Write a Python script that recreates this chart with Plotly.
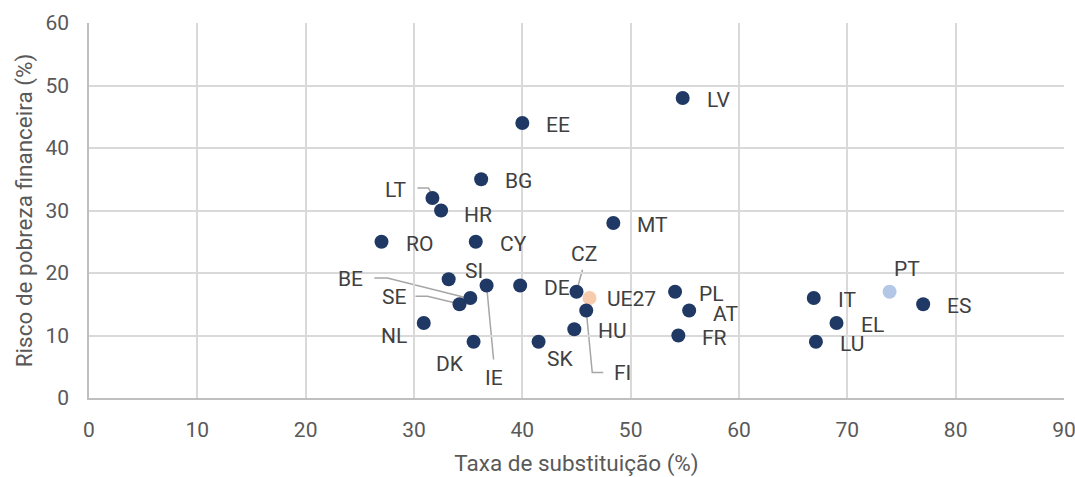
import plotly.graph_objects as go

countries = ["LV", "EE", "BG", "LT", "HR", "RO", "CY", "MT", "SI", "BE", "SE", "IE", "DE",
             "CZ", "UE27", "FI", "HU", "NL", "DK", "SK", "PL", "AT", "FR", "IT", "EL", "LU",
             "PT", "ES"]
taxa_substituicao = [54.8, 40.0, 36.2, 31.7, 32.5, 27.0, 35.7, 48.4, 33.2, 35.2, 34.2, 36.7, 39.8,
                     45.0, 46.2, 45.9, 44.8, 30.9, 35.5, 41.5, 54.1, 55.4, 54.4, 66.9, 69.0, 67.1,
                     73.9, 77.0]
risco_pobreza = [48, 44, 35, 32, 30, 25, 25, 28, 19, 16, 15, 18, 18,
                 17, 16, 14, 11, 12, 9, 9, 17, 14, 10, 16, 12, 9,
                 17, 15]

x_ticks = [0, 10, 20, 30, 40, 50, 60, 70, 80, 90]
y_ticks = [0, 10, 20, 30, 40, 50, 60]

NAVY = "#1F3864"
PEACH = "#F8CBAD"
LIGHTBLUE = "#B4C7E7"
colors = [PEACH if c == "UE27" else LIGHTBLUE if c == "PT" else NAVY for c in countries]

# label placement: (xanchor, xshift, yshift) in pixels; yshift positive = up
label_pos = {
    "LT": ("right", -24, 8), "HR": ("left", 21, -4), "SI": ("left", 14, 8),
    "BE": ("right", -105, 19), "SE": ("right", -52, 7), "IE": ("center", 7, -92),
    "CZ": ("center", 7, 38), "FI": ("left", 26, -62), "NL": ("right", -15, -13),
    "DK": ("center", -24, -22), "SK": ("center", 21, -17), "PT": ("center", 17, 23),
    "UE27": ("left", 15, -1), "AT": ("left", 22, -3),
}
# leader lines in pixel offsets (screen: y down)
leaders = {
    "LT": [(-15, -10), (-4, -10), (-1, -5)],
    "BE": [(-96, -20), (-83, -20), (-3, 0)],
    "SE": [(-44, -8), (-32, -8), (-3, -1)],
    "IE": [(0, 0), (7, 74)],
    "CZ": [(1, -4), (6, -22)],
    "FI": [(0, 0), (6, 62), (17, 62)],
}

fig = go.Figure()
fig.add_trace(go.Scatter(
    x=taxa_substituicao, y=risco_pobreza, mode="markers",
    marker=dict(size=14, color=colors, line=dict(width=0)),
    text=countries, hoverinfo="text+x+y", showlegend=False,
))

annotations = []
for c, xv, yv in zip(countries, taxa_substituicao, risco_pobreza):
    xa, xs, ys = label_pos.get(c, ("left", 22, -2))
    annotations.append(dict(
        x=xv, y=yv, xref="x", yref="y", text=c, showarrow=False,
        xanchor=xa, yanchor="middle", xshift=xs, yshift=ys,
        font=dict(family="Roboto", size=21, color="#404040"),
    ))

shapes = []
for c, pts in leaders.items():
    i = countries.index(c)
    path = "M " + " L ".join(f"{dx},{-dy}" for dx, dy in pts)
    shapes.append(dict(
        type="path", xref="x", yref="y", xsizemode="pixel", ysizemode="pixel",
        xanchor=taxa_substituicao[i], yanchor=risco_pobreza[i], path=path,
        line=dict(color="#A6A6A6", width=1.5), layer="below",
    ))

fig.update_layout(
    width=1075, height=477,
    margin=dict(l=89, r=11, t=23, b=79, autoexpand=False),
    paper_bgcolor="white", plot_bgcolor="white",
    font=dict(family="Roboto", color="#595959"),
    annotations=annotations, shapes=shapes,
    xaxis=dict(
        range=[0, 90], tickvals=x_ticks, ticktext=[str(v) for v in x_ticks],
        showgrid=True, gridcolor="#D9D9D9", gridwidth=1.5,
        showline=True, linecolor="#BFBFBF", linewidth=1.5,
        zeroline=False, ticks="", tickfont=dict(size=21, color="#595959"),
        ticklabelstandoff=12, ticklabeloverflow="allow", automargin=False,
        title=dict(text="Taxa de substituição (%)", font=dict(size=22.5, color="#595959"), standoff=16),
    ),
    yaxis=dict(
        range=[0, 60], tickvals=y_ticks, ticktext=[str(v) for v in y_ticks],
        showgrid=True, gridcolor="#D9D9D9", gridwidth=1.5,
        showline=True, linecolor="#BFBFBF", linewidth=1.5,
        zeroline=False, ticks="", tickfont=dict(size=21, color="#595959"),
        ticklabelstandoff=14, automargin=False,
        title=dict(text="Risco de pobreza financeira (%)", font=dict(size=22.5, color="#595959"), standoff=7),
    ),
)

fig.write_html(
    "out.html",
    config={"displayModeBar": False},
    post_script="document.body.style.margin='0';document.body.style.overflow='hidden';",
)
